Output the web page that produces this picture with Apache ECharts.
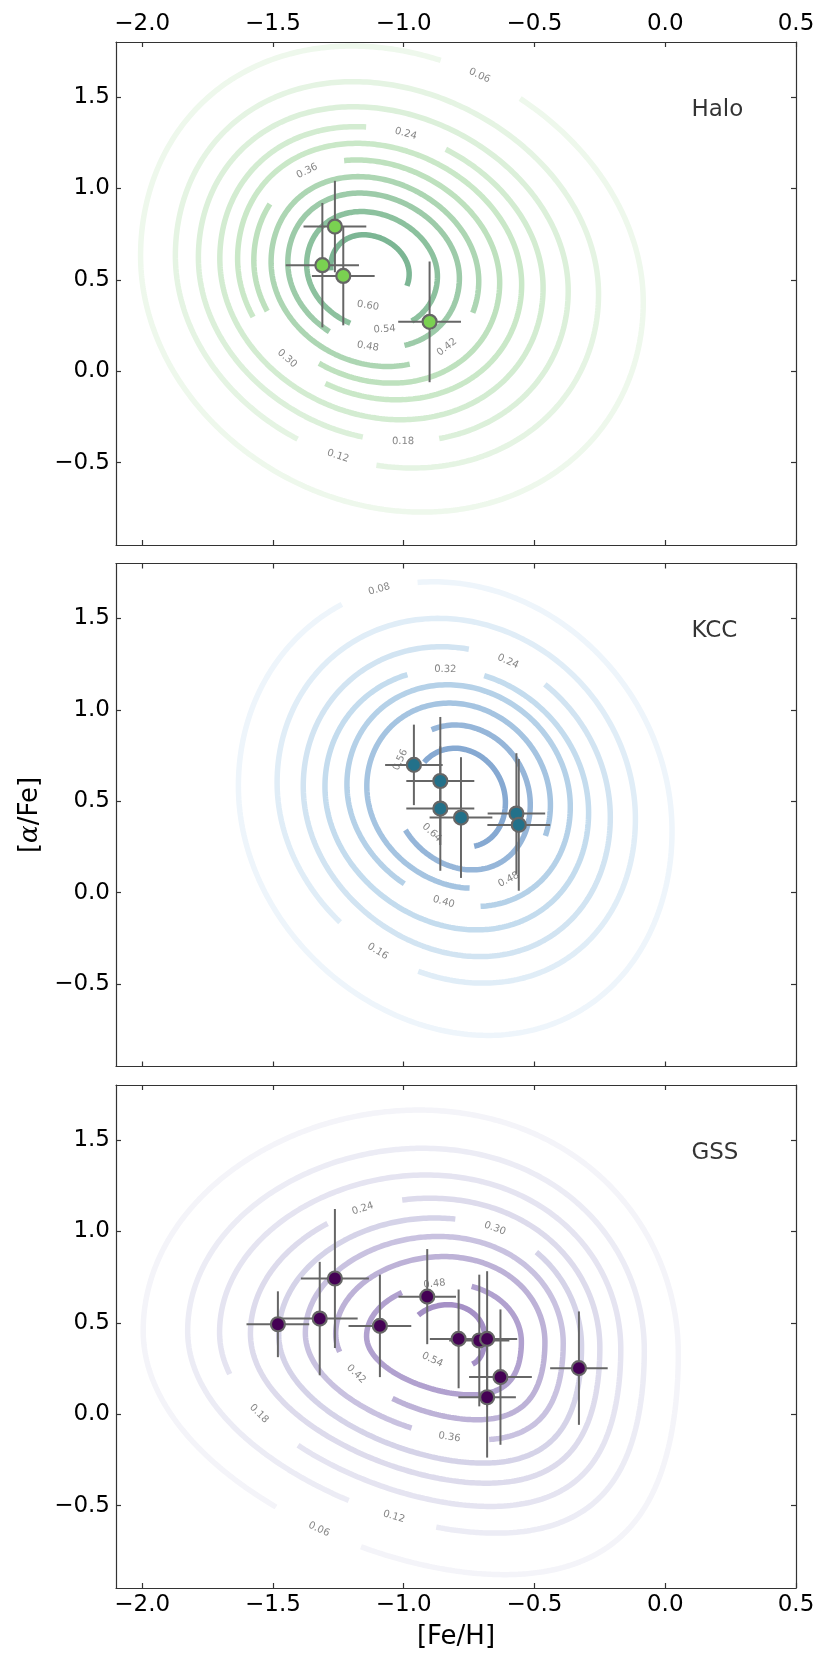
<!DOCTYPE html>
<html>
<head>
<meta charset="utf-8">
<script src="https://cdn.jsdelivr.net/npm/echarts@6/dist/echarts.min.js"></script>
<style>
  html, body { margin: 0; padding: 0; background: #fff; }
  #chart { width: 830px; height: 1661px; }
</style>
</head>
<body>
<div id="chart"></div>
<script>
// tick values
var xTicks = [-2.0, -1.5, -1.0, -0.5, 0.0, 0.5];
var yTicks = [-0.5, 0.0, 0.5, 1.0, 1.5];

// ---- Halo ----
var haloFeH = [-1.263, -1.311, -1.231, -0.901];
var haloAlpha = [0.791, 0.580, 0.521, 0.270];
var haloFeHErr = [0.12, 0.14, 0.12, 0.12];
var haloAlphaErr = [0.25, 0.34, 0.27, 0.33];
// contour rings: level, centre, half width / height, label gaps (deg)
var haloLevels = [0.06, 0.12, 0.18, 0.24, 0.30, 0.36, 0.42, 0.48, 0.54, 0.60];
var haloCx = [-1.045, -1.064, -1.078, -1.085, -1.092, -1.103, -1.110, -1.115, -1.121, -1.129];
var haloCy = [0.504, 0.527, 0.531, 0.536, 0.545, 0.545, 0.545, 0.551, 0.551, 0.551];
var haloW = [0.961, 0.809, 0.707, 0.618, 0.543, 0.470, 0.397, 0.328, 0.250, 0.150];
var haloH = [1.274, 1.056, 0.915, 0.801, 0.701, 0.610, 0.519, 0.423, 0.322, 0.195];
var haloGaps = [[[57, 78]], [[244, 267]], [[264, 287]], [[65, 95]], [[202, 246]],
  [[105, 145], [202, 240]], [[289, 335]], [[237, 290]], [[250, 305]], [[180, 335]]];
var haloLabelAt = [68, 256, 276, 81, 226, 122, 311, 266, 281, 267];

// ---- KCC ----
var kccFeH = [-0.961, -0.860, -0.860, -0.781, -0.569, -0.560];
var kccAlpha = [0.699, 0.611, 0.460, 0.411, 0.433, 0.371];
var kccFeHErr = [0.11, 0.13, 0.13, 0.12, 0.11, 0.12];
var kccAlphaErr = [0.22, 0.35, 0.34, 0.33, 0.33, 0.36];
var kccLevels = [0.08, 0.16, 0.24, 0.32, 0.40, 0.48, 0.56, 0.64];
var kccCx = [-0.803, -0.799, -0.797, -0.797, -0.790, -0.790, -0.777, -0.787];
var kccCy = [0.460, 0.503, 0.498, 0.509, 0.531, 0.531, 0.521, 0.520];
var kccW = [0.829, 0.685, 0.587, 0.504, 0.427, 0.351, 0.261, 0.176];
var kccH = [1.240, 0.997, 0.847, 0.712, 0.606, 0.506, 0.396, 0.270];
var kccGaps = [[[100, 120]], [[226, 257]], [[53, 85]], [[78, 111]], [[239, 281]],
  [[277, 335]], [[116, 208]], [[137, 288]]];
var kccLabelAt = [110, 242, 70, 95, 262, 301, 150, 230];

// ---- GSS ----
var gssFeH = [-1.481, -1.321, -1.263, -1.091, -0.910, -0.790, -0.711, -0.681, -0.630, -0.681, -0.330];
var gssAlpha = [0.492, 0.523, 0.742, 0.483, 0.643, 0.412, 0.403, 0.412, 0.203, 0.093, 0.252];
var gssFeHErr = [0.12, 0.145, 0.13, 0.12, 0.11, 0.11, 0.115, 0.115, 0.12, 0.11, 0.11];
var gssAlphaErr = [0.18, 0.31, 0.38, 0.28, 0.26, 0.27, 0.36, 0.37, 0.37, 0.33, 0.31];
var gssLevels = [0.06, 0.12, 0.18, 0.24, 0.30, 0.36, 0.42, 0.48, 0.54];
var gssCx = [-0.973, -0.953, -0.937, -0.918, -0.899, -0.883, -0.860, -0.846, -0.835];
var gssCy = [0.393, 0.402, 0.402, 0.402, 0.403, 0.416, 0.416, 0.411, 0.430];
var gssW = [1.023, 0.873, 0.767, 0.668, 0.579, 0.493, 0.400, 0.296, 0.145];
var gssH = [1.270, 1.052, 0.906, 0.779, 0.670, 0.556, 0.446, 0.305, 0.169];
var gssGaps = [[[235, 258]], [[251, 275]], [[192, 226]], [[98, 124]], [[46, 80]],
  [[259, 293]], [[190, 238]], [[70, 123]], [[139, 306]]];
var gssLabelAt = [247, 264, 209, 111, 65, 277, 209, 97, 244];

// ring shape per panel: tilt (rho), shift of the upper / lower half (st / sb)
var panels = [
  { name: 'Halo', feh: haloFeH, alpha: haloAlpha, ex: haloFeHErr, ey: haloAlphaErr,
    levels: haloLevels, cx: haloCx, cy: haloCy, w: haloW, h: haloH, gaps: haloGaps, labelAt: haloLabelAt,
    face: '#7ad151', stops: ['#eef8ec', '#c6e6c3', '#7cb694'], rho: -0.1, st: -0.06, sb: 0.02 },
  { name: 'KCC', feh: kccFeH, alpha: kccAlpha, ex: kccFeHErr, ey: kccAlphaErr,
    levels: kccLevels, cx: kccCx, cy: kccCy, w: kccW, h: kccH, gaps: kccGaps, labelAt: kccLabelAt,
    face: '#23718a', stops: ['#eef5fb', '#bdd8ec', '#86a9d2'], rho: -0.1, st: 0.0, sb: 0.05 },
  { name: 'GSS', feh: gssFeH, alpha: gssAlpha, ex: gssFeHErr, ey: gssAlphaErr,
    levels: gssLevels, cx: gssCx, cy: gssCy, w: gssW, h: gssH, gaps: gssGaps, labelAt: gssLabelAt,
    face: '#440154', stops: ['#f4f4f9', '#d5d3e8', '#a590c6'], rho: -0.05, st: 0.08, sb: 0.3 }
];

var FONT = 'DejaVu Sans';
var tops = [42, 563.5, 1085];
var PX_X = 680 / 2.6, PX_Y = 503 / 2.75;

function hex2rgb(h) {
  return [parseInt(h.slice(1, 3), 16), parseInt(h.slice(3, 5), 16), parseInt(h.slice(5, 7), 16)];
}
function ramp(stops, f) {
  var seg = f * (stops.length - 1);
  var i = Math.min(Math.floor(seg), stops.length - 2);
  var t = seg - i;
  var a = hex2rgb(stops[i]), b = hex2rgb(stops[i + 1]);
  var c = a.map(function (v, k) { return Math.round(v + (b[k] - v) * t); });
  return 'rgb(' + c.join(',') + ')';
}

function polarDeg(u, v) {
  var p = Math.atan2(v, u) * 180 / Math.PI;
  return p < 0 ? p + 360 : p;
}

// unit ring point (u, v) and its derivative at parameter t
function shape(t, p) {
  var s = Math.sqrt(1 - p.rho * p.rho);
  var sn = Math.sin(t), cs = Math.cos(t);
  var k = sn > 0 ? p.st : p.sb;
  return {
    u: cs + k * sn * sn,
    v: p.rho * cs + s * sn,
    du: -sn + 2 * k * sn * cs,
    dv: -p.rho * sn + s * cs
  };
}

// sample a ring, split it at the label gaps
function ring(cx, cy, w, h, p, gaps) {
  var N = 720, segs = [], cur = [], firstIn = null, lastIn = null;
  for (var i = 0; i <= N; i++) {
    var q = shape(i / N * 2 * Math.PI, p);
    var phi = polarDeg(q.u, q.v);
    var inGap = gaps.some(function (g) { return phi >= g[0] && phi <= g[1]; });
    if (i === 0) firstIn = inGap;
    if (i === N) lastIn = inGap;
    if (inGap) {
      if (cur.length > 1) segs.push(cur);
      cur = [];
    } else {
      cur.push([cx + w * q.u, cy + h * q.v]);
    }
  }
  if (cur.length > 1) segs.push(cur);
  if (!firstIn && !lastIn && segs.length > 1) {
    var last = segs.pop();
    segs[0] = last.concat(segs[0]);
  }
  return segs;
}

function labelPoint(cx, cy, w, h, p, ang) {
  var best = null, bestD = 1e9;
  for (var i = 0; i < 720; i++) {
    var q = shape(i / 720 * 2 * Math.PI, p);
    var d = Math.abs(((polarDeg(q.u, q.v) - ang + 540) % 360) - 180);
    if (d < bestD) { bestD = d; best = q; }
  }
  var rot = Math.atan2(h * best.dv * PX_Y, w * best.du * PX_X) * 180 / Math.PI;
  if (rot > 90) rot -= 180;
  if (rot < -90) rot += 180;
  return { xy: [cx + w * best.u, cy + h * best.v], rot: rot };
}

function tickFmt(v) {
  return v.toFixed(1).replace('-', '\u2212');
}

function xAxis(k, pos, labels) {
  return {
    type: 'value', gridIndex: k, position: pos, min: -2.1, max: 0.5,
    splitLine: { show: false },
    axisLine: { show: true, onZero: false, lineStyle: { color: '#333', width: 1.2 } },
    axisTick: { show: true, inside: true, length: 5, customValues: xTicks, lineStyle: { color: '#333', width: 1.2 } },
    axisLabel: { show: labels, customValues: xTicks, formatter: tickFmt, fontSize: 23, fontFamily: FONT, color: '#000', margin: 6 },
    name: (k === 2 && pos === 'bottom') ? '[Fe/H]' : '',
    nameLocation: 'middle', nameGap: 36,
    nameTextStyle: { fontSize: 26, fontFamily: FONT, color: '#000' }
  };
}

function yAxis(k, pos, labels) {
  return {
    type: 'value', gridIndex: k, position: pos, min: -0.95, max: 1.8,
    splitLine: { show: false },
    axisLine: { show: true, onZero: false, lineStyle: { color: '#333', width: 1.2 } },
    axisTick: { show: true, inside: true, length: 5, customValues: yTicks, lineStyle: { color: '#333', width: 1.2 } },
    axisLabel: { show: labels, customValues: yTicks, formatter: tickFmt, fontSize: 23, fontFamily: FONT, color: '#000', margin: 6 },
    name: (k === 1 && pos === 'left') ? '[{a|\u03b1}/Fe]' : '',
    nameLocation: 'middle', nameGap: 72, nameRotate: 90,
    nameTextStyle: { fontSize: 26, fontFamily: FONT, color: '#000',
      rich: { a: { fontSize: 26, fontFamily: 'DejaVu Serif', fontStyle: 'italic', color: '#000' } } }
  };
}

var grids = [], xAxes = [], yAxes = [], series = [];

panels.forEach(function (p, k) {
  grids.push({ left: 116, width: 680, top: tops[k], height: 503 });
  xAxes.push(xAxis(k, 'bottom', k === 2));
  xAxes.push(xAxis(k, 'top', k === 0));
  yAxes.push(yAxis(k, 'left', true));
  yAxes.push(yAxis(k, 'right', false));
  var xi = 2 * k, yi = 2 * k;
  var n = p.levels.length;
  var labelData = [];

  p.levels.forEach(function (lev, i) {
    var col = ramp(p.stops, n > 1 ? i / (n - 1) : 0);
    ring(p.cx[i], p.cy[i], p.w[i], p.h[i], p, p.gaps[i]).forEach(function (seg) {
      series.push({
        type: 'line', xAxisIndex: xi, yAxisIndex: yi, data: seg,
        showSymbol: false, symbol: 'none', silent: true, z: 1,
        lineStyle: { color: col, width: 5.5, cap: 'butt' }
      });
    });
    var lp = labelPoint(p.cx[i], p.cy[i], p.w[i], p.h[i], p, p.labelAt[i]);
    labelData.push({ name: lev.toFixed(2), value: lp.xy, label: { rotate: lp.rot } });
  });

  // contour labels
  series.push({
    type: 'scatter', xAxisIndex: xi, yAxisIndex: yi, data: labelData,
    symbolSize: 1, itemStyle: { color: 'rgba(0,0,0,0)' }, silent: true, z: 2,
    label: { show: true, position: 'inside', formatter: function (d) { return d.name; },
      fontSize: 10, fontFamily: FONT, color: '#666' }
  });

  // error bars
  series.push({
    type: 'custom', xAxisIndex: xi, yAxisIndex: yi, z: 3, silent: true,
    data: p.feh.map(function (x, i) { return [x, p.alpha[i], p.ex[i], p.ey[i]]; }),
    encode: { x: 0, y: 1 },
    renderItem: function (params, api) {
      var x = api.value(0), y = api.value(1), ex = api.value(2), ey = api.value(3);
      var a = api.coord([x - ex, y]), b = api.coord([x + ex, y]);
      var c = api.coord([x, y - ey]), d = api.coord([x, y + ey]);
      var st = { stroke: '#666', lineWidth: 2 };
      return { type: 'group', children: [
        { type: 'line', shape: { x1: a[0], y1: a[1], x2: b[0], y2: b[1] }, style: st },
        { type: 'line', shape: { x1: c[0], y1: c[1], x2: d[0], y2: d[1] }, style: st }
      ] };
    }
  });

  // stars
  series.push({
    type: 'scatter', xAxisIndex: xi, yAxisIndex: yi, z: 4,
    data: p.feh.map(function (x, i) { return [x, p.alpha[i]]; }),
    symbolSize: 14,
    itemStyle: { color: p.face, borderColor: '#666', borderWidth: 2.2, opacity: 1 }
  });

  // panel name
  series.push({
    type: 'scatter', xAxisIndex: xi, yAxisIndex: yi, z: 5, silent: true,
    data: [{ name: p.name, value: [0.1, 1.43] }],
    symbolSize: 1, itemStyle: { color: 'rgba(0,0,0,0)' },
    label: { show: true, position: 'inside', align: 'left', formatter: function (d) { return d.name; },
      fontSize: 23, fontFamily: FONT, color: '#000' }
  });
});

var chart = echarts.init(document.getElementById('chart'), null, { renderer: 'canvas' });
chart.setOption({
  animation: false,
  backgroundColor: '#fff',
  grid: grids,
  xAxis: xAxes,
  yAxis: yAxes,
  series: series
});
</script>
</body>
</html>
